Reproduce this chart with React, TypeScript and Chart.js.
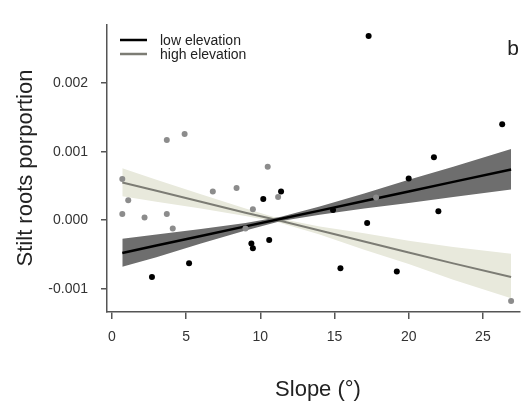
import React, { useEffect, useRef } from "react";
import { Chart, registerables } from "chart.js";
Chart.register(...registerables);

// ---- data ----
const xTicks = [0, 5, 10, 15, 20, 25];
const yTicks = [-0.001, 0, 0.001, 0.002];

const lowX = [2.7, 5.2, 9.4, 9.5, 10.2, 10.6, 11.4, 14.9, 15.4, 17.2, 17.3, 19.2, 20.0, 21.7, 22.0, 26.3];
const lowY = [-0.00083, -0.00063, -0.00034, -0.00041, 0.00031, -0.00029, 0.00042, 0.00015, -0.0007, -0.00004, 0.00269, -0.00075, 0.00061, 0.00092, 0.00013, 0.0014];

const highX = [0.7, 0.7, 1.1, 2.2, 3.7, 3.7, 4.1, 4.9, 6.8, 8.4, 9.0, 9.5, 10.5, 11.2, 17.8, 26.9];
const highY = [0.0006, 0.00009, 0.00029, 0.00004, 0.00009, 0.00117, -0.00012, 0.00126, 0.00042, 0.00047, -0.00012, 0.00016, 0.00078, 0.00034, 0.00033, -0.00118];

const lowBandX = [0.7, 3, 6, 9, 11.4, 14, 17, 20, 23, 26.9];
const lowFit = [-0.00048, -0.00037, -0.00023, -0.00009, 0.00002, 0.00014, 0.00028, 0.00042, 0.00056, 0.00074];
const lowUpper = [-0.00027, -0.00021, -0.00013, -0.00004, 0.00005, 0.0002, 0.00039, 0.00059, 0.00078, 0.00104];
const lowLower = [-0.00068, -0.00054, -0.00034, -0.00015, -0.00001, 0.00008, 0.00017, 0.00025, 0.00034, 0.00045];

const highBandX = [0.7, 3, 6, 9, 11.2, 14, 17, 20, 23, 26.9];
const highFit = [0.00055, 0.00043, 0.00027, 0.00011, 0.0, -0.00015, -0.00031, -0.00047, -0.00063, -0.00083];
const highUpper = [0.00076, 0.00059, 0.00038, 0.00017, 0.00003, -0.00009, -0.00019, -0.0003, -0.00039, -0.00049];
const highLower = [0.00035, 0.00027, 0.00017, 0.00006, -0.00003, -0.00021, -0.00043, -0.00064, -0.00087, -0.00114];

const legendLabels = ["low elevation", "high elevation"];
const panelLabel = "b";
const xTitle = "Slope (°)";
const yTitle = "Stilt roots porportion";

const pts = (xs: number[], ys: number[]) => xs.map((x, i) => ({ x, y: ys[i] }));

const FONT = '"Liberation Sans", Arial, sans-serif';
const C_BLACK = "#000000";
const C_GRAY_LINE = "#7c7c74";
const C_GRAY_PT = "#8c8c8c";
const C_DARK_BAND = "#6e6e6e";
const C_LIGHT_BAND = "#e8e9dc";
const C_AXIS = "#555555";

export default function App() {
  const ref = useRef<HTMLCanvasElement>(null);

  useEffect(() => {
    if (!ref.current) return;
    const overlay = {
      id: "overlay",
      afterDraw(chart: any) {
        const ctx = chart.ctx as CanvasRenderingContext2D;
        ctx.save();
        // legend
        ctx.lineCap = "butt";
        ctx.lineWidth = 2.5;
        ctx.strokeStyle = C_BLACK;
        ctx.beginPath();
        ctx.moveTo(120, 40);
        ctx.lineTo(147, 40);
        ctx.stroke();
        ctx.strokeStyle = C_GRAY_LINE;
        ctx.beginPath();
        ctx.moveTo(120, 54);
        ctx.lineTo(147, 54);
        ctx.stroke();
        ctx.fillStyle = "#222";
        ctx.font = `14px ${FONT}`;
        ctx.textAlign = "left";
        ctx.textBaseline = "middle";
        ctx.fillText(legendLabels[0], 160, 41);
        ctx.fillText(legendLabels[1], 160, 55);
        // panel label
        ctx.font = `21px ${FONT}`;
        ctx.textAlign = "center";
        ctx.fillText(panelLabel, 513, 49);
        // axis titles
        ctx.font = `22px ${FONT}`;
        ctx.fillText(xTitle, 318, 390);
        ctx.translate(26, 168);
        ctx.rotate(-Math.PI / 2);
        ctx.fillText(yTitle, 0, 0);
        ctx.restore();
      },
    };

    const chart = new Chart(ref.current, {
      type: "line",
      data: {
        datasets: [
          {
            label: "low points",
            data: pts(lowX, lowY),
            showLine: false,
            pointRadius: 3,
            pointBackgroundColor: C_BLACK,
            pointBorderWidth: 0,
            order: 0,
          },
          {
            label: "high points",
            data: pts(highX, highY),
            showLine: false,
            pointRadius: 3,
            pointBackgroundColor: C_GRAY_PT,
            pointBorderWidth: 0,
            order: 1,
          },
          {
            label: "low fit",
            data: pts(lowBandX, lowFit),
            borderColor: C_BLACK,
            borderWidth: 2.5,
            pointRadius: 0,
            fill: false,
            order: 2,
          },
          {
            label: "high fit",
            data: pts(highBandX, highFit),
            borderColor: C_GRAY_LINE,
            borderWidth: 2,
            pointRadius: 0,
            fill: false,
            order: 2,
          },
          {
            label: "low upper",
            data: pts(lowBandX, lowUpper),
            borderWidth: 0,
            borderColor: "rgba(0,0,0,0)",
            backgroundColor: C_DARK_BAND,
            pointRadius: 0,
            fill: "+1",
            order: 3,
          },
          {
            label: "low lower",
            data: pts(lowBandX, lowLower),
            borderWidth: 0,
            borderColor: "rgba(0,0,0,0)",
            pointRadius: 0,
            fill: false,
            order: 3,
          },
          {
            label: "high upper",
            data: pts(highBandX, highUpper),
            borderWidth: 0,
            borderColor: "rgba(0,0,0,0)",
            backgroundColor: C_LIGHT_BAND,
            pointRadius: 0,
            fill: "+1",
            order: 4,
          },
          {
            label: "high lower",
            data: pts(highBandX, highLower),
            borderWidth: 0,
            borderColor: "rgba(0,0,0,0)",
            pointRadius: 0,
            fill: false,
            order: 4,
          },
        ],
      },
      options: {
        responsive: false,
        animation: false,
        events: [],
        layout: { padding: { top: 25, left: 0, right: 0, bottom: 0 } },
        plugins: { legend: { display: false }, tooltip: { enabled: false } },
        elements: { line: { tension: 0 } },
        scales: {
          x: {
            type: "linear",
            min: -0.33,
            max: 27.5,
            afterBuildTicks: (s: any) => {
              s.ticks = xTicks.map((v) => ({ value: v }));
            },
            afterFit: (s: any) => {
              s.height = 96;
            },
            grid: { drawOnChartArea: false, drawTicks: true, tickLength: 7, color: C_AXIS, lineWidth: 1.5 },
            border: { display: true, color: C_AXIS, width: 1.5 },
            ticks: {
              font: { family: FONT, size: 14 },
              color: "#333",
              padding: 10,
              maxRotation: 0,
              callback: (v: any) => String(v),
            },
          },
          y: {
            type: "linear",
            min: -0.00134,
            max: 0.00285,
            afterBuildTicks: (s: any) => {
              s.ticks = yTicks.map((v) => ({ value: v }));
            },
            afterFit: (s: any) => {
              s.width = 107;
            },
            grid: { drawOnChartArea: false, drawTicks: true, tickLength: 6, color: C_AXIS, lineWidth: 1.5 },
            border: { display: true, color: C_AXIS, width: 1.5 },
            ticks: {
              font: { family: FONT, size: 14 },
              color: "#333",
              padding: 13,
              callback: (v: any) => Number(v).toFixed(3),
            },
          },
        },
      },
      plugins: [overlay],
    } as any);
    return () => chart.destroy();
  }, []);

  return (
    <div style={{ position: "fixed", left: 0, top: 0, width: 524, height: 408, background: "#fff" }}>
      <canvas ref={ref} width={524} height={408} style={{ display: "block" }} />
    </div>
  );
}
